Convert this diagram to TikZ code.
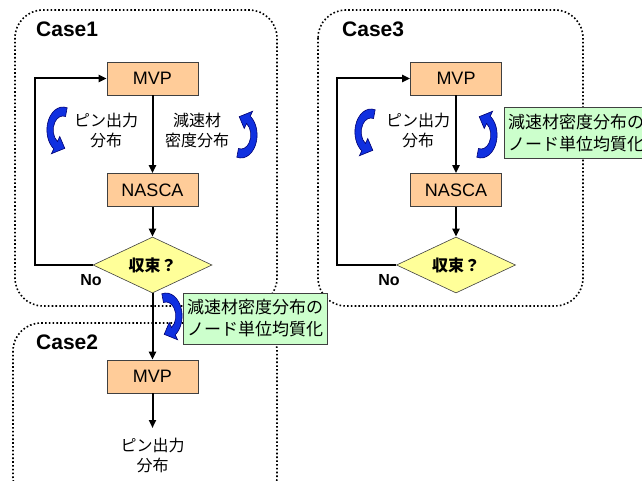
\documentclass[tikz,border=0pt]{standalone}
\usepackage{fontspec}
\setmainfont{Liberation Sans}
\newfontfamily\jpfont{Noto Sans CJK JP}
\usetikzlibrary{shapes.geometric,arrows.meta}

\definecolor{boxorange}{HTML}{FFCC99}
\definecolor{decyellow}{HTML}{FFFF99}
\definecolor{notegreen}{HTML}{CCFFCC}
\definecolor{arrowblue}{HTML}{1030E0}
\definecolor{arrowedge}{HTML}{000070}
\definecolor{edgegray}{HTML}{404040}

\begin{document}
\begin{tikzpicture}[x=1pt,y=1pt,
  procbox/.style={draw=edgegray, line width=0.8pt, fill=boxorange,
    minimum width=91pt, minimum height=33pt, inner sep=0pt,
    font=\fontsize{18}{20}\selectfont},
  decision/.style={diamond, aspect=2, draw=edgegray, line width=0.6pt,
    fill=decyellow, minimum width=119pt, minimum height=56pt, inner sep=0pt,
    font=\jpfont\bfseries\fontsize{16}{18}\selectfont},
  notebox/.style={draw=edgegray, line width=1pt, fill=notegreen,
    minimum width=144pt, minimum height=51pt, inner sep=0pt, align=center,
    font=\jpfont\fontsize{17}{22}\selectfont},
  flow/.style={line width=2pt, -{Triangle[length=8pt,width=7pt]}},
  caseframe/.style={dash pattern=on 1.6pt off 2.2pt, line width=1.6pt,
    rounded corners=28pt},
  caselabel/.style={anchor=west, inner sep=0pt,
    font=\bfseries\fontsize{21}{24}\selectfont},
  nolabel/.style={inner sep=0pt, font=\bfseries\fontsize{16}{18}\selectfont},
  datalabel/.style={align=center, inner sep=0pt,
    font=\jpfont\fontsize{16}{20}\selectfont},
  bluearrow/.style={fill=arrowblue, draw=arrowedge, line width=0.6pt},
  bendarrow/.pic={
    \filldraw[bluearrow] (75:23) arc[start angle=75, end angle=235, radius=23]
      -- (235:29) -- (278:18.5) -- (235:8) -- (235:14)
      arc[start angle=235, end angle=75, radius=14] -- cycle;
  },
]
\useasboundingbox (0,0) rectangle (642,-481);

% dotted case frames
\draw[caseframe] (15,-10) rectangle (277,-306);
\draw[caseframe] (13,-323) rectangle (277,-505);
\draw[caseframe] (318,-10) rectangle (583,-306);

\node[caselabel] (labA) at (36,-29) {Case1};
\node[caselabel] (labB) at (36,-342) {Case2};
\node[caselabel] (labC) at (342,-29) {Case3};

% Case1: iteration loop
\node[procbox] (mvpA) at (152.5,-78.5) {MVP};
\node[procbox] (nascaA) at (152.5,-190) {NASCA};
\node[decision] (convA) at (152.5,-265) {収束？};
\node[nolabel] (noA) at (91,-280) {No};
\node[datalabel] (pinA) at (106,-130) {ピン出力\\分布};
\node[datalabel] (modA) at (197,-130) {減速材\\密度分布};
\pic[xscale=0.7] at (63,-130) {bendarrow};
\pic[xscale=-0.7, yscale=-1] at (241,-135) {bendarrow};

\draw[flow] (mvpA) -- (nascaA);
\draw[flow] (nascaA) -- (convA);
\draw[flow] (convA.west) -- ++(-58,0) |- (mvpA.west);

% Case2: single MVP run after homogenisation
\node[notebox] (noteA) at (255,-318.5) {減速材密度分布の\\ノード単位均質化};
\pic[xscale=-0.7] at (166,-316) {bendarrow};
\node[procbox] (mvpB) at (152.5,-376.5) {MVP};
\node[datalabel] (pinB) at (152.5,-455) {ピン出力\\分布};
\coordinate (pinBtop) at (152.5,-428);
\draw[flow] (convA.south) -- (mvpB.north);
\draw[flow] (mvpB.south) -- (pinBtop);

% Case3: iteration loop with homogenised densities
\node[procbox] (mvpC) at (456,-78.5) {MVP};
\node[procbox] (nascaC) at (456,-190) {NASCA};
\node[decision] (convC) at (456,-265) {収束？};
\node[nolabel] (noC) at (389,-280) {No};
\node[datalabel] (pinC) at (418,-130) {ピン出力\\分布};
\node[notebox] (noteC) at (576,-133) {減速材密度分布の\\ノード単位均質化};
\pic[xscale=0.7] at (371,-132) {bendarrow};
\pic[xscale=-0.7, yscale=-1] at (481,-135) {bendarrow};

\draw[flow] (mvpC) -- (nascaC);
\draw[flow] (nascaC) -- (convC);
\draw[flow] (convC.west) -- ++(-59,0) |- (mvpC.west);
\end{tikzpicture}
\end{document}
